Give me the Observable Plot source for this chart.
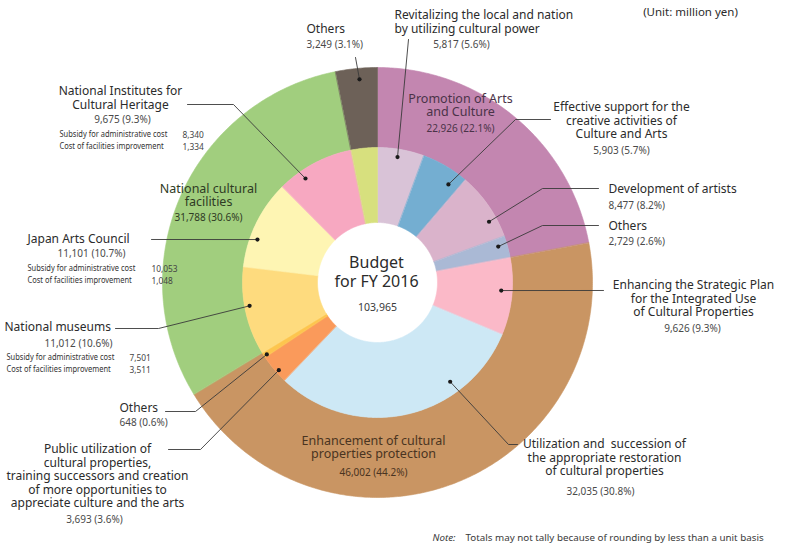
<!DOCTYPE html>
<html><head><meta charset="utf-8">
<script src="https://cdn.jsdelivr.net/npm/d3@7"></script>
<script src="https://cdn.jsdelivr.net/npm/@observablehq/plot@0.6"></script>
<style>body{margin:0;background:#fff;} svg{display:block}</style>
</head><body><div id="chart"></div>
<script>
// ---------- DATA ----------
const groupNames = ["Promotion of Arts\nand Culture", "Enhancement of cultural\nproperties protection", "National cultural\nfacilities", "Others"];
const groupValues = [22926, 46002, 31788, 3249];
const groupShares = ["22.1%", "44.2%", "30.6%", "3.1%"];

const itemNames = [
  "Revitalizing the local and nation\nby utilizing cultural power",
  "Effective support for the\ncreative activities of\nCulture and Arts",
  "Development of artists",
  "Others",
  "Enhancing the Strategic Plan\nfor the Integrated Use\nof Cultural Properties",
  "Utilization and  succession of\nthe appropriate restoration\nof cultural properties",
  "Public utilization of\ncultural properties,\ntraining successors and creation\nof more opportunities to\nappreciate culture and the arts",
  "Others",
  "National museums",
  "Japan Arts Council",
  "National Institutes for\nCultural Heritage",
  "Others"
];
const itemValues = [5817, 5903, 8477, 2729, 9626, 32035, 3693, 648, 11012, 11101, 9675, 3249];
const itemShares = ["5.6%", "5.7%", "8.2%", "2.6%", "9.3%", "30.8%", "3.6%", "0.6%", "10.6%", "10.7%", "9.3%", "3.1%"];

const breakdownItems = [10, 9, 8]; // National Institutes, Japan Arts Council, National museums
const subsidyAdmin = [8340, 10053, 7501];
const facilitiesCost = [1334, 1048, 3511];
const subsidyLabel = "Subsidy for administrative cost";
const facilitiesLabel = "Cost of facilities improvement";

const totalBudget = 103965;
const centerTitle = ["Budget", "for FY 2016"];
const unitText = "(Unit: million yen)";
const noteLead = "Note:";
const noteText = "Totals may not tally because of rounding by less than a unit basis";

// ---------- STYLE ----------
const groupColors = ["#c386b0", "#c99563", "#a1ce7e", "#6d6158"];
const itemColors = ["#d9c3d7", "#74aed1", "#dab3cb", "#aab9d5", "#fbb9c8", "#cde8f5", "#fa9a5b", "#fdc54e", "#fedb7e", "#fef5b3", "#f7a8c1", "#d7e07e"];
const groupText = ["#4a3348", "#4a3421", "#2f3b24", "#333"];

// ---------- LAYOUT ----------
const W = 798, H = 558, CX = 377, CY = 282, R_OUT = 215, R_MID = 135, R_IN = 60;
const TAU = 2 * Math.PI;
const fmt = d3.format(",");
const LH = 13.5;

function polar(a, r) { return [CX + r * Math.sin(a), CY - r * Math.cos(a)]; }
function bounds(values) {
  const tot = d3.sum(values); let acc = 0;
  return values.map(v => { const a0 = acc / tot * TAU; acc += v; return [a0, acc / tot * TAU]; });
}
function sectors(values, colors, r0, r1, prefix) {
  const out = [];
  bounds(values).forEach(([a0, a1], i) => {
    const n = Math.max(2, Math.ceil((a1 - a0) / 0.01));
    const key = prefix + i;
    for (let k = 0; k <= n; k++) { const [x, y] = polar(a0 + (a1 - a0) * k / n, r1); out.push({key, color: colors[i], x, y}); }
    for (let k = n; k >= 0; k--) { const [x, y] = polar(a0 + (a1 - a0) * k / n, r0); out.push({key, color: colors[i], x, y}); }
  });
  return out;
}
const ringRows = [
  ...sectors(groupValues, groupColors, R_MID, R_OUT, "g"),
  ...sectors(itemValues, itemColors, R_IN, R_MID, "i")
];

// annotation layout: dot placed at fraction t across slice and radius r; then leader path points
const itemB = bounds(itemValues);
const leaderLayout = [
  {i: 0, t: 0.45, r: 127, path: [[408, 39]]},
  {i: 1, t: 0.77, r: 121, path: [[515, 119], [550, 119]]},
  {i: 2, t: 0.71, r: 127, path: [[542, 188], [598, 188]]},
  {i: 3, t: 0.37, r: 126, path: [[542, 225], [598, 225]]},
  {i: 4, t: 0.43, r: 124, path: [[603, 290]]},
  {i: 5, t: 0.28, r: 123, path: [[508, 444], [517, 444]]},
  {i: 6, t: 0.37, r: 132, path: [[200, 449], [168, 449]]},
  {i: 7, t: 0.25, r: 132, path: [[195, 411], [165, 411]]},
  {i: 8, t: 0.55, r: 130, path: [[158, 328], [115, 328]]},
  {i: 9, t: 0.335, r: 127.5, path: [[151, 239]]},
  {i: 10, t: 0.30, r: 126.5, path: [[233, 104], [187, 104]]},
  {i: 11, t: 0.55, r: 204, path: [[355, 57]]}
];
const dots = [], leaders = [];
leaderLayout.forEach(L => {
  const [a0, a1] = itemB[L.i];
  const [x, y] = polar(a0 + (a1 - a0) * L.t, L.r);
  dots.push({x, y});
  leaders.push({id: L.i, x, y});
  L.path.forEach(([px, py]) => leaders.push({id: L.i, x: px, y: py}));
});

// label positions: title (x,y,anchor) and value (x,y,anchor)
const labelLayout = [
  {i: 0, tx: 394, ty: 15, ta: "start", vx: 461, vy: 44, va: "middle"},
  {i: 1, tx: 621, ty: 107, ta: "middle", vx: 621, vy: 150, va: "middle"},
  {i: 2, tx: 608, ty: 189, ta: "start", vx: 608, vy: 205, va: "start"},
  {i: 3, tx: 608, ty: 226, ta: "start", vx: 608, vy: 241, va: "start"},
  {i: 4, tx: 693, ty: 285, ta: "middle", vx: 692, vy: 328, va: "middle"},
  {i: 5, tx: 604, ty: 444, ta: "middle", vx: 600, vy: 491, va: "middle"},
  {i: 6, tx: 97, ty: 449, ta: "middle", vx: 94, vy: 519, va: "middle"},
  {i: 7, tx: 119, ty: 408, ta: "start", vx: 119, vy: 422, va: "start"},
  {i: 8, tx: 4, ty: 327, ta: "start", vx: 44, vy: 343, va: "start"},
  {i: 9, tx: 27, ty: 239, ta: "start", vx: 57, vy: 253, va: "start"},
  {i: 10, tx: 120, ty: 91, ta: "middle", vx: 122, vy: 119, va: "middle"},
  {i: 11, tx: 306, ty: 29, ta: "start", vx: 306, vy: 44, va: "start"}
];
const groupLayout = [
  {g: 0, tx: 460, ty: 98, vy: 128},
  {g: 1, tx: 373, ty: 440, vy: 472},
  {g: 2, tx: 208, ty: 188, vy: 217}
];
const breakdownLayout = [
  {x: 59, y: 134, nx: 182},
  {x: 27, y: 268, nx: 151},
  {x: 6, y: 357, nx: 129}
];

const texts = {start: [], middle: [], end: []};
function addLines(str, x, y, anchor, size, fill, lh = LH) {
  str.split("\n").forEach((t, k) => texts[anchor].push({t, x, y: y + k * lh, size, fill}));
}
labelLayout.forEach(L => {
  addLines(itemNames[L.i], L.tx, L.ty, L.ta, 12, "#2b2b2b");
  addLines(`${fmt(itemValues[L.i])} (${itemShares[L.i]})`, L.vx, L.vy, L.va, 10, "#4a4a4a");
});
groupLayout.forEach(G => {
  addLines(groupNames[G.g], G.tx, G.ty, "middle", 12.5, groupText[G.g], 13);
  addLines(`${fmt(groupValues[G.g])} (${groupShares[G.g]})`, G.tx, G.vy, "middle", 10, groupText[G.g]);
});
addLines(centerTitle.join("\n"), 376, 262, "middle", 16, "#2b2b2b", 19);
addLines(fmt(totalBudget), 377, 307, "middle", 10.5, "#3a3a3a");
addLines(unitText, 690, 12, "middle", 11.5, "#2b2b2b");
addLines(noteText, 465, 537, "start", 9.8, "#3a3a3a");

const narrow = [];
breakdownLayout.forEach((B, k) => {
  narrow.push({t: subsidyLabel, x: B.x, y: B.y, a: "start"});
  narrow.push({t: facilitiesLabel, x: B.x, y: B.y + 12, a: "start"});
  narrow.push({t: fmt(subsidyAdmin[k]), x: B.nx, y: B.y, a: "num"});
  narrow.push({t: fmt(facilitiesCost[k]), x: B.nx, y: B.y + 12, a: "num"});
});

function textMark(rows, anchor, extra = {}) {
  return Plot.text(rows, {x: "x", y: "y", text: "t", fontSize: d => d.size, fill: d => d.fill, textAnchor: anchor, ...extra});
}

const plot = Plot.plot({
  width: W, height: H, margin: 0,
  style: {fontFamily: "'Noto Sans', 'Open Sans', sans-serif", background: "#fff"},
  x: {domain: [0, W], range: [0, W], axis: null},
  y: {domain: [0, H], range: [0, H], axis: null},
  color: {type: "identity"},
  marks: [
    Plot.line(ringRows, {x: "x", y: "y", z: "key", fill: "color", stroke: "color", strokeWidth: 0.6, curve: "linear-closed"}),
    Plot.line(leaders, {x: "x", y: "y", z: "id", stroke: "#3a3a3a", strokeWidth: 0.9}),
    Plot.dot(dots, {x: "x", y: "y", r: 2.1, fill: "#1a1a1a"}),
    textMark(texts.start, "start"),
    textMark(texts.middle, "middle"),
    Plot.text(narrow.filter(d => d.a === "start"), {x: "x", y: "y", text: "t", fontSize: 9, fill: "#333", textAnchor: "start", className: "narrow-lbl"}),
    Plot.text(narrow.filter(d => d.a === "num"), {x: "x", y: "y", text: "t", fontSize: 9.5, fill: "#444", textAnchor: "start", className: "narrow-num"}),
    Plot.text([{t: noteLead, x: 432, y: 537}], {x: "x", y: "y", text: "t", fontSize: 9.8, fill: "#3a3a3a", textAnchor: "start", fontStyle: "italic"})
  ]
});
document.getElementById("chart").appendChild(plot);
// condensed look for the breakdown lines (the reference uses a narrow face)
d3.select(plot).selectAll(".narrow-lbl text").each(function () {
  const len = this.getComputedTextLength();
  if (len > 0) d3.select(this).attr("textLength", len * 0.83).attr("lengthAdjust", "spacingAndGlyphs");
});
d3.select(plot).selectAll(".narrow-num text").each(function () {
  const len = this.getComputedTextLength();
  if (len > 0) d3.select(this).attr("textLength", len * 0.88).attr("lengthAdjust", "spacingAndGlyphs");
});
</script>
</body></html>
